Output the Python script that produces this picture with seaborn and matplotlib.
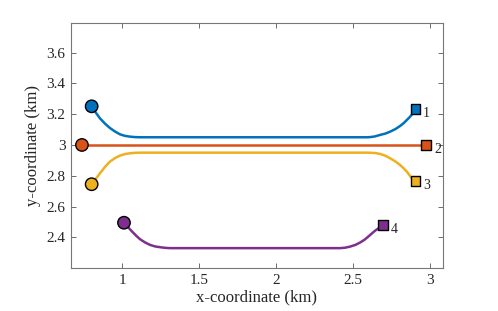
import matplotlib
matplotlib.use("Agg")
import matplotlib.pyplot as plt
import seaborn as sns
import pandas as pd

# Route 1 (blue)
x1 = [0.803, 0.83, 0.857, 0.89, 0.922, 0.955, 0.987, 1.02, 1.052, 1.085, 1.117, 1.15,
      2.59, 2.61, 2.64, 2.675, 2.71, 2.740, 2.775, 2.805, 2.83, 2.849, 2.865, 2.88, 2.895, 2.905]
y1 = [3.251, 3.21, 3.173, 3.138, 3.110, 3.087, 3.069, 3.059, 3.054, 3.051, 3.050, 3.05,
      3.05, 3.051, 3.055, 3.065, 3.074, 3.086, 3.103, 3.123, 3.143, 3.162, 3.178, 3.195, 3.215, 3.234]
# Route 2 (orange)
x2 = [0.74, 2.976]
y2 = [3.0, 3.0]
# Route 3 (yellow)
x3 = [0.803, 0.83, 0.857, 0.89, 0.922, 0.955, 0.987, 1.02, 1.052, 1.085, 1.117, 1.15,
      2.59, 2.64, 2.675, 2.71, 2.740, 2.775, 2.805, 2.83, 2.849, 2.865, 2.88, 2.905]
y3 = [2.745, 2.78, 2.816, 2.858, 2.892, 2.915, 2.931, 2.941, 2.946, 2.949, 2.95, 2.95,
      2.95, 2.948, 2.942, 2.93, 2.914, 2.893, 2.87, 2.847, 2.827, 2.806, 2.784, 2.766]
# Route 4 (purple)
x4 = [1.013, 1.043, 1.073, 1.095, 1.117, 1.15, 1.182, 1.215, 1.247, 1.28, 1.312,
      2.416, 2.45, 2.481, 2.515, 2.545, 2.575, 2.599, 2.623, 2.643, 2.66, 2.675, 2.693]
y4 = [2.495, 2.462, 2.43, 2.408, 2.388, 2.367, 2.351, 2.341, 2.336, 2.332, 2.33,
      2.33, 2.333, 2.34, 2.351, 2.366, 2.385, 2.405, 2.426, 2.443, 2.455, 2.466, 2.48]

route_labels = ["1", "2", "3", "4"]
colors = ["#0072BD", "#D95319", "#EDB120", "#7E2F8E"]
xticks = [1, 1.5, 2, 2.5, 3]
xticklabels = ["1", "1.5", "2", "2.5", "3"]
yticks = [2.4, 2.6, 2.8, 3.0, 3.2, 3.4, 3.6]
yticklabels = ["2.4", "2.6", "2.8", "3", "3.2", "3.4", "3.6"]

sns.set_theme(style="white")
plt.rcParams['font.family'] = ['Liberation Serif', 'DejaVu Serif']
plt.rcParams['mathtext.fontset'] = 'stix'

fig = plt.figure(figsize=(4.98, 3.11), dpi=100)
ax = fig.add_axes([71/498, 1-268/311, (443-71)/498, (268-23)/311])

routes = [(x1, y1), (x2, y2), (x3, y3), (x4, y4)]
frames = []
for lab, (xs, ys) in zip(route_labels, routes):
    frames.append(pd.DataFrame({"x": xs, "y": ys, "route": lab, "order": range(len(xs))}))
df = pd.concat(frames, ignore_index=True)

sns.lineplot(data=df, x="x", y="y", hue="route", palette=colors, sort=False,
             estimator=None, units="route", lw=1.8, legend=False, ax=ax, zorder=2)

starts = pd.DataFrame({"x": [r[0][0] for r in routes], "y": [r[1][0] for r in routes], "route": route_labels})
ends = pd.DataFrame({"x": [r[0][-1] for r in routes], "y": [r[1][-1] for r in routes], "route": route_labels})
sns.scatterplot(data=starts, x="x", y="y", hue="route", palette=colors, marker="o", s=80,
                edgecolor="black", linewidth=1.0, legend=False, ax=ax, zorder=3)
sns.scatterplot(data=ends, x="x", y="y", hue="route", palette=colors, marker="s", s=50,
                edgecolor="black", linewidth=1.0, legend=False, ax=ax, zorder=3)

for _, row in ends.iterrows():
    ax.text(row["x"] + 0.05, row["y"] - 0.028, row["route"], ha="left", va="center",
            fontsize=10, color="#262626")

ax.set_xlim(0.669, 3.084)
ax.set_ylim(2.201, 3.792)
ax.set_xticks(xticks)
ax.set_xticklabels(xticklabels)
ax.set_yticks(yticks)
ax.set_yticklabels(yticklabels)
ax.tick_params(direction="in", length=3.5, width=0.6, color="#555555", labelsize=11,
               labelcolor="#262626", top=True, right=True, bottom=True, left=True, pad=4)
for sp in ax.spines.values():
    sp.set_color("#777777")
    sp.set_linewidth(0.8)
ax.set_xlabel("x-coordinate (km)", fontsize=12, color="#262626", labelpad=2)
ax.set_ylabel("y-coordinate (km)", fontsize=12, color="#262626", labelpad=4)

fig.savefig("out.png", dpi=100)
